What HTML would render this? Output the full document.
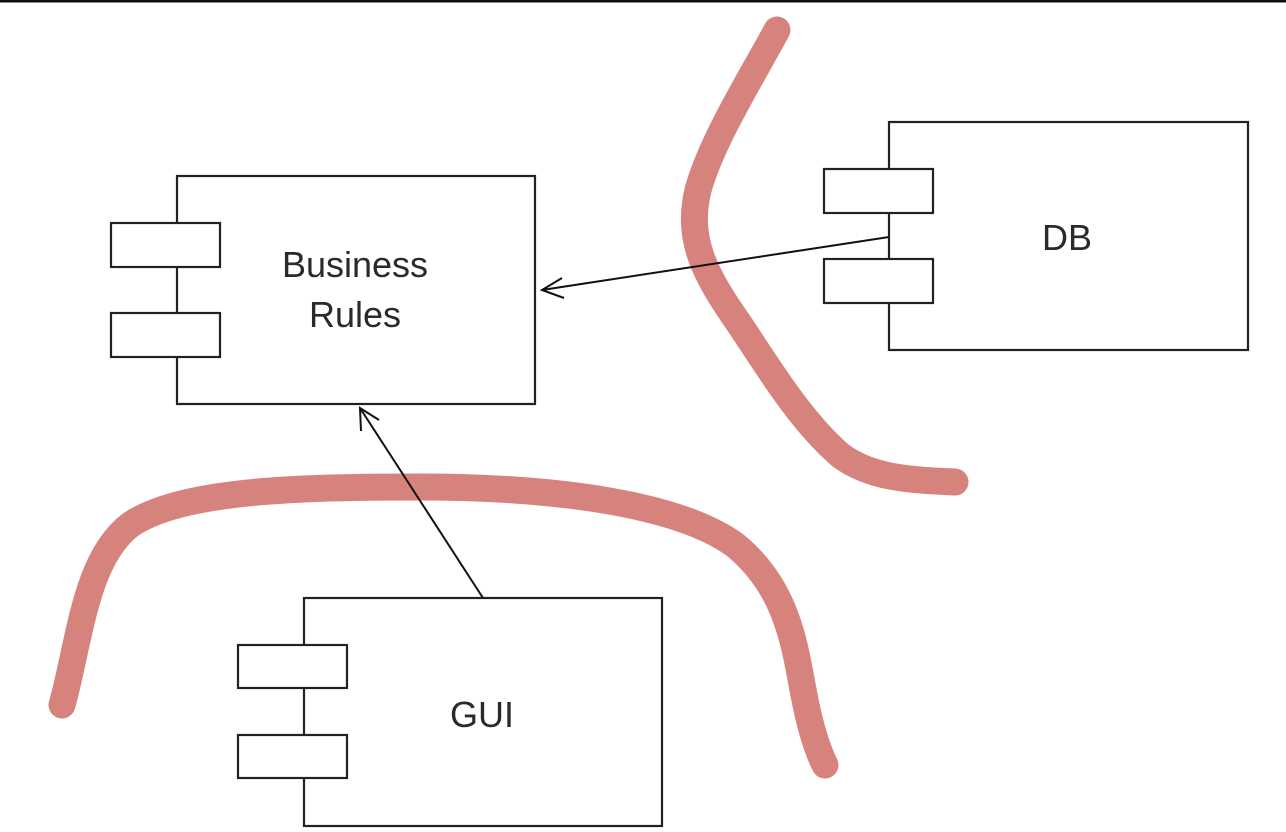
<!DOCTYPE html>
<html><head><meta charset="utf-8"><style>
html,body{margin:0;padding:0;background:#fff;}
svg{display:block;}
text{font-family:"Liberation Sans",sans-serif;font-size:36px;fill:#2a2a2a;}
</style></head><body>
<svg width="1286" height="832" viewBox="0 0 1286 832" xmlns="http://www.w3.org/2000/svg">
<rect x="0" y="0" width="1286" height="2.5" fill="#111"/>
<g fill="none" stroke="#d6837e" stroke-width="27" stroke-linecap="round" stroke-linejoin="round">
<path d="M777,30 C750,80 712,140 698,190 C686,240 705,275 740,325 C770,370 800,420 840,455 C870,478 910,480 955,482"/>
<path d="M62,705 C80,640 85,560 130,525 C180,490 300,487 420,487 C560,487 680,505 735,545 C790,590 795,650 805,700 C812,735 820,755 825,765"/>
</g>
<g fill="#fff" stroke="#222" stroke-width="2.2">
<rect x="177" y="176" width="358" height="228"/>
<rect x="111" y="223" width="109" height="44"/>
<rect x="111" y="313" width="109" height="44"/>
<rect x="889" y="122" width="359" height="228"/>
<rect x="824" y="169" width="109" height="44"/>
<rect x="824" y="259" width="109" height="44"/>
<rect x="304" y="598" width="358" height="228"/>
<rect x="238" y="645" width="109" height="43"/>
<rect x="238" y="735" width="109" height="43"/>
</g>
<g stroke="#111" stroke-width="2" fill="none">
<line x1="889" y1="237" x2="542" y2="290"/>
<polyline points="562,278 542,290 564,298"/>
<line x1="483" y1="598" x2="360" y2="408"/>
<polyline points="361,431 360,408 379,420"/>
</g>
<text x="355" y="277" text-anchor="middle">Business</text>
<text x="355" y="327" text-anchor="middle">Rules</text>
<text x="1067" y="250" text-anchor="middle">DB</text>
<text x="482" y="727" text-anchor="middle">GUI</text>
</svg>
</body></html>
